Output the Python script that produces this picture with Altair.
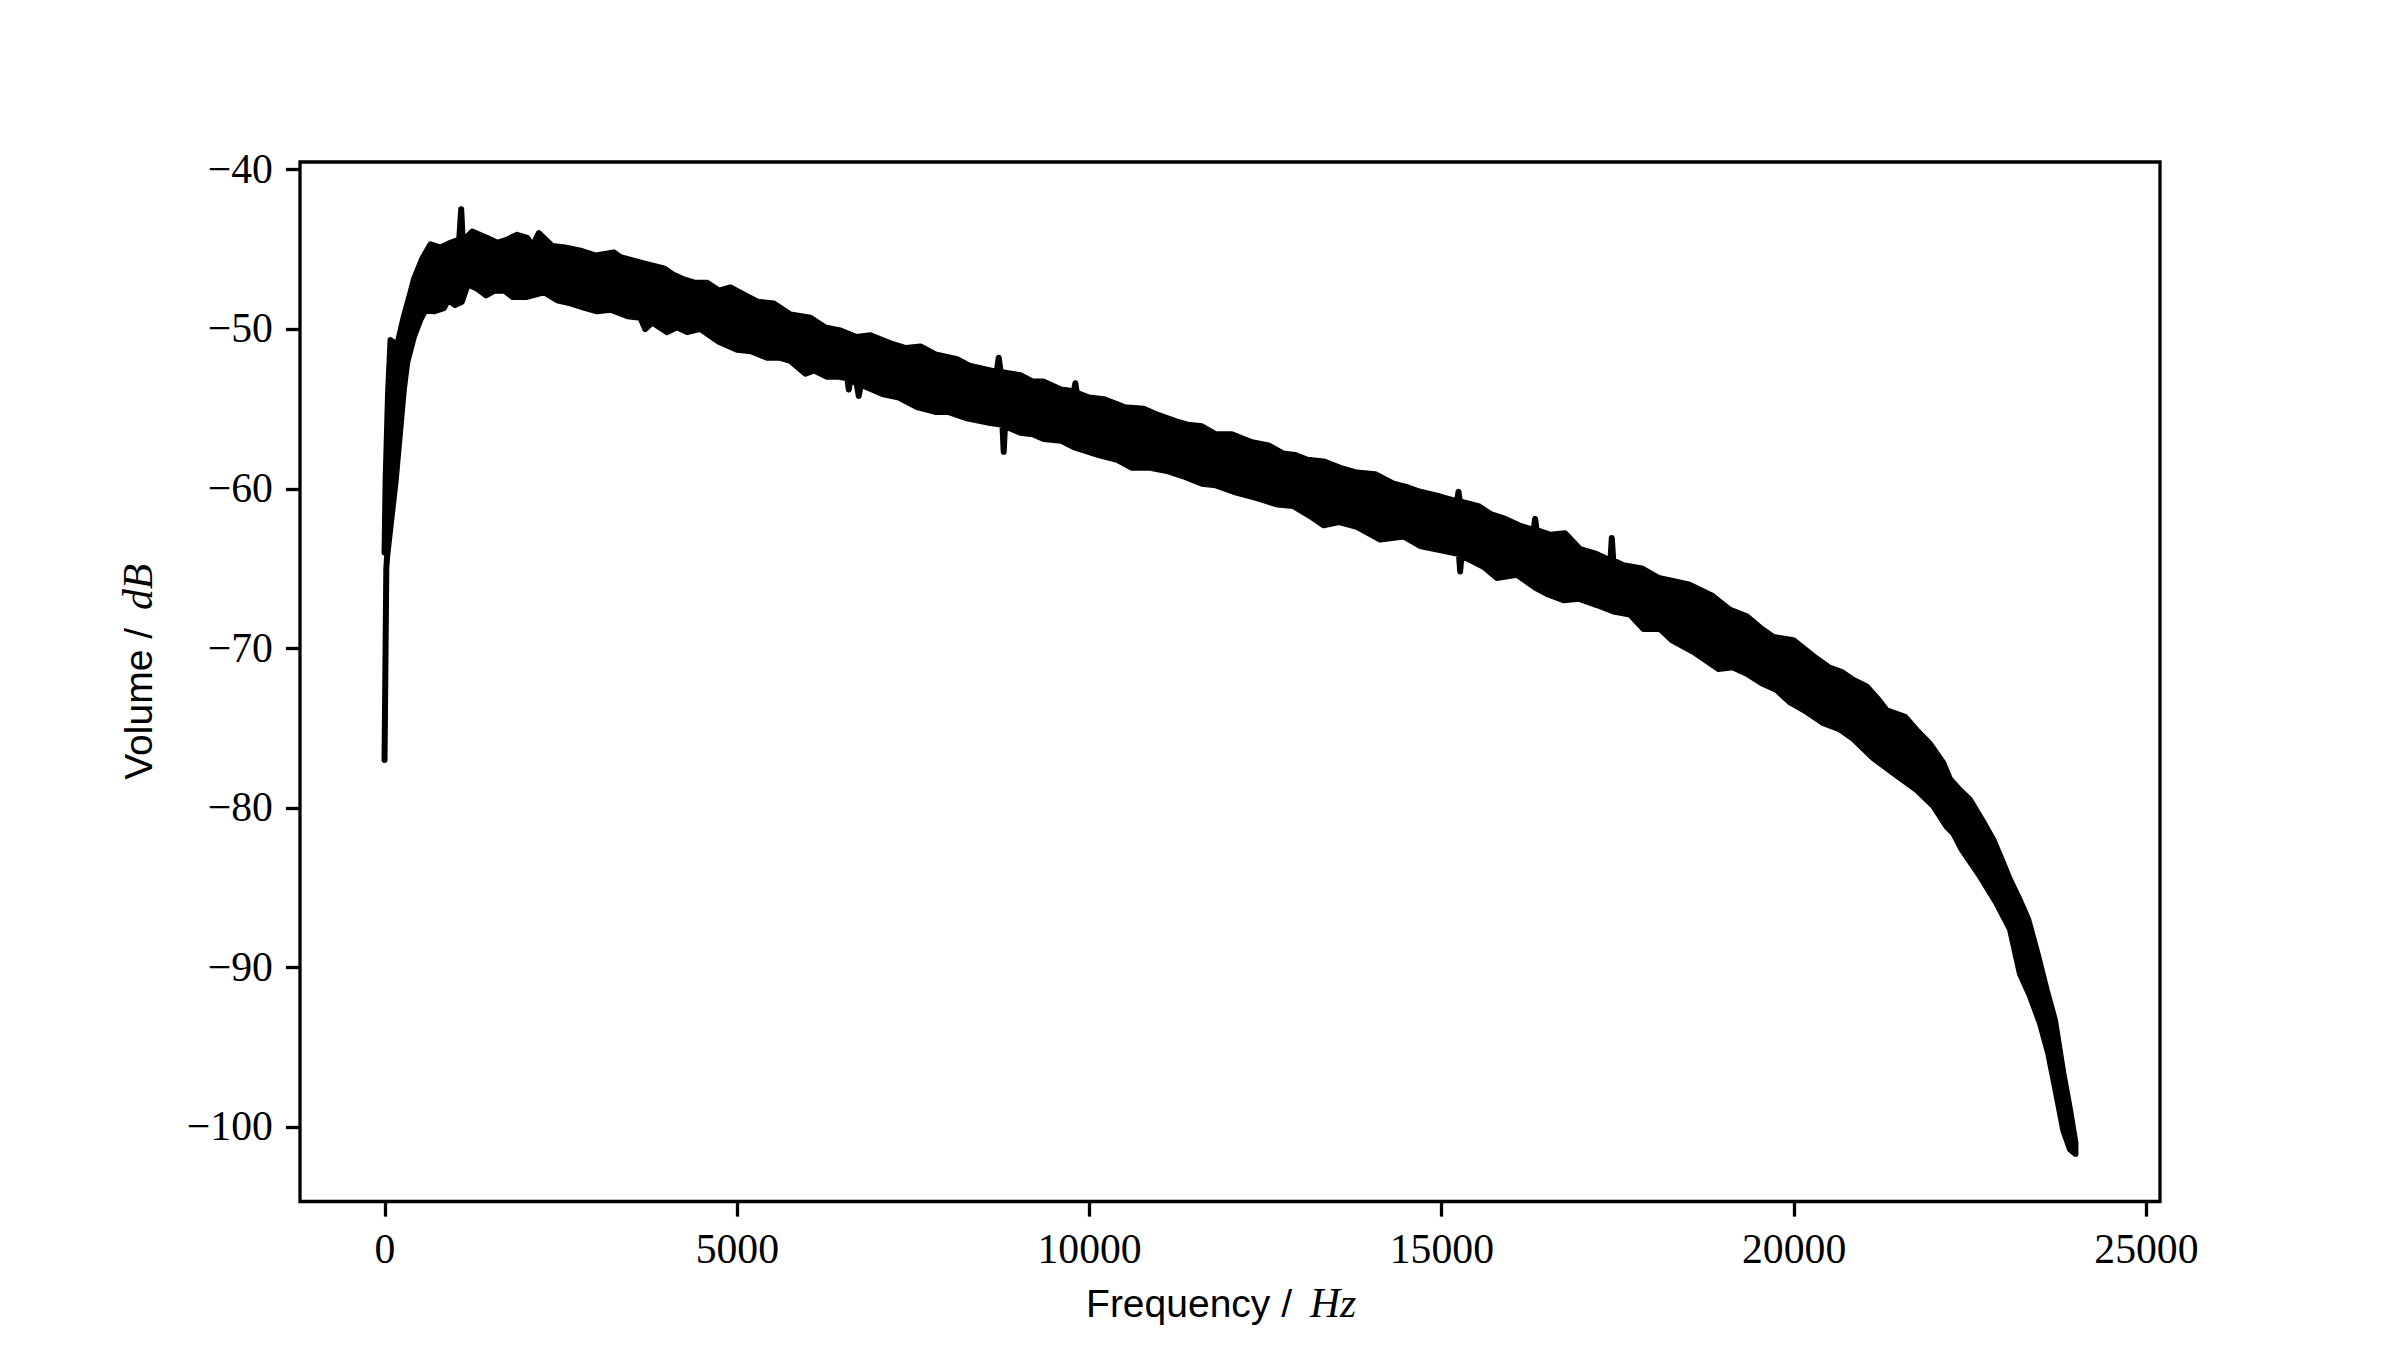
import altair as alt
import pandas as pd

# Upper edge of the noisy spectrum band (frequency in Hz, volume in dB)
UPPER_FREQ = [0, 15, 50, 85, 180, 275, 369, 416, 535, 653, 795, 936, 1060, 1088, 1110, 1244, 1457, 1600,
              1741, 1883, 2025, 2100, 2190, 2379, 2560, 2781, 3000, 3254, 3349, 3680, 3964, 4100, 4247,
              4400, 4579, 4750, 4910, 5122, 5300, 5525, 5761, 6045, 6250, 6470, 6700, 6896, 7180, 7400,
              7606, 7819, 8126, 8300, 8504, 8690, 8717, 8745, 9025, 9200, 9356, 9600, 9785, 9805, 9825,
              10000, 10207, 10500, 10775, 10986, 11246, 11400, 11601, 11800, 12027, 12311, 12547, 12750,
              12926, 13100, 13328, 13564, 13800, 14061, 14321, 14500, 14699, 14983, 15225, 15243, 15262,
              15527, 15700, 15906, 16100, 16310, 16331, 16352, 16550, 16757, 16970, 17200, 17400, 17419,
              17440, 17585, 17845, 18081, 18300, 18507, 18838, 19098, 19335, 19550, 19713, 19997, 20280,
              20500, 20683, 20850, 21037, 21200, 21321, 21581, 21760, 21936, 22125, 22219, 22362, 22503,
              22680, 22834, 22950, 23070, 23212, 23330, 23472, 23591, 23709, 23827, 23922, 24000]
UPPER_DB = [-64.0, -59.5, -54.0, -50.7, -51.0, -49.2, -47.7, -46.9, -45.6, -44.7, -44.9, -44.6, -44.4, -42.5,
            -44.5, -43.9, -44.3, -44.6, -44.4, -44.1, -44.3, -44.8, -44.0, -44.8, -44.9, -45.1, -45.4, -45.2,
            -45.5, -45.9, -46.2, -46.6, -46.9, -47.1, -47.1, -47.6, -47.4, -47.9, -48.3, -48.4, -49.1, -49.3,
            -49.9, -50.1, -50.5, -50.4, -50.9, -51.2, -51.1, -51.6, -51.9, -52.3, -52.5, -52.7, -51.8, -52.7,
            -52.9, -53.3, -53.3, -53.8, -53.9, -53.4, -54.0, -54.3, -54.4, -54.9, -55.0, -55.4, -55.8, -56.0,
            -56.1, -56.6, -56.6, -57.1, -57.3, -57.8, -57.9, -58.2, -58.3, -58.7, -59.0, -59.1, -59.7, -59.9,
            -60.2, -60.5, -60.8, -60.2, -60.8, -61.1, -61.6, -61.9, -62.3, -62.6, -61.9, -62.6, -62.9, -62.8,
            -63.8, -64.1, -64.5, -63.1, -64.5, -64.8, -65.0, -65.6, -65.8, -66.0, -66.7, -67.6, -68.0, -68.8,
            -69.3, -69.5, -70.5, -71.2, -71.5, -72.0, -72.4, -73.2, -73.9, -74.3, -75.2, -76.0, -77.2, -78.2,
            -78.9, -79.5, -80.8, -82.0, -83.2, -84.5, -85.8, -87.0, -89.3, -91.4, -93.3, -96.6, -98.9, -101.0]

# Lower edge of the noisy spectrum band
LOWER_FREQ = [0, 25, 38, 156, 274, 322, 416, 511, 582, 700, 842, 900, 1000, 1097, 1182, 1324, 1440, 1560,
              1702, 1820, 2009, 2261, 2450, 2639, 2850, 3017, 3207, 3450, 3632, 3700, 3800, 4011, 4150, 4295,
              4484, 4744, 5004, 5200, 5430, 5600, 5761, 5974, 6100, 6281, 6450, 6570, 6589, 6610, 6700, 6731,
              6760, 7085, 7300, 7558, 7819, 8000, 8268, 8599, 8770, 8788, 8806, 9025, 9200, 9356, 9600, 9782,
              10136, 10400, 10609, 10868, 11105, 11317, 11601, 11800, 12050, 12382, 12666, 12900, 13162, 13328,
              13550, 13801, 14132, 14463, 14699, 15030, 15250, 15267, 15285, 15598, 15787, 16071, 16331, 16497,
              16733, 16950, 17206, 17443, 17679, 17868, 18105, 18270, 18601, 18933, 19135, 19335, 19547, 19750,
              19950, 20186, 20422, 20659, 20848, 21132, 21439, 21747, 21983, 22173, 22266, 22384, 22645, 22881,
              23070, 23212, 23354, 23496, 23614, 23709, 23827, 23922, 24000]
LOWER_DB = [-77.0, -65.0, -64.2, -59.6, -53.8, -52.1, -50.5, -49.4, -48.8, -48.9, -48.7, -48.2, -48.5, -48.3,
            -47.2, -47.5, -47.9, -47.6, -47.6, -48.0, -48.0, -47.7, -48.2, -48.4, -48.7, -48.9, -48.8, -49.2,
            -49.3, -50.0, -49.6, -50.2, -49.9, -50.2, -50.0, -50.8, -51.3, -51.4, -51.8, -51.8, -52.0, -52.8,
            -52.6, -53.0, -53.0, -53.1, -53.8, -53.2, -53.4, -54.2, -53.5, -54.1, -54.3, -54.9, -55.2, -55.2,
            -55.6, -55.9, -56.0, -57.7, -56.1, -56.5, -56.6, -56.9, -57.0, -57.4, -57.9, -58.2, -58.7, -58.7,
            -58.9, -59.2, -59.7, -59.8, -60.2, -60.6, -61.0, -61.1, -61.8, -62.3, -62.1, -62.4, -63.2, -63.0,
            -63.6, -63.9, -64.1, -65.2, -64.2, -64.9, -65.6, -65.4, -66.2, -66.6, -67.0, -66.9, -67.3, -67.7,
            -67.9, -68.8, -68.8, -69.5, -70.3, -71.3, -71.2, -71.6, -72.2, -72.6, -73.4, -74.0, -74.7, -75.1,
            -75.7, -76.9, -77.9, -78.9, -79.9, -81.2, -81.6, -82.6, -84.3, -86.0, -87.6, -90.4, -91.8, -93.5,
            -95.4, -97.5, -100.2, -101.4, -101.7]

X_TICKS = [0, 5000, 10000, 15000, 20000, 25000]
Y_TICKS = [-40, -50, -60, -70, -80, -90, -100]
X_DOMAIN = [-1200, 25200]
Y_DOMAIN = [-104.67, -39.54]

# Closed outline: upper edge left->right, then lower edge right->left
freqs = UPPER_FREQ + LOWER_FREQ[::-1]
vols = UPPER_DB + LOWER_DB[::-1]
band = pd.DataFrame({"freq": freqs, "vol": vols, "idx": list(range(len(freqs)))})

FS = 41.7
SERIF = "Liberation Serif"
SANS = "Liberation Sans"

spectrum = alt.Chart(band).mark_line(
    fill="black", stroke="black", strokeWidth=6, strokeJoin="round", strokeCap="round"
).encode(
    x=alt.X("freq:Q", scale=alt.Scale(domain=X_DOMAIN, nice=False, zero=False),
            axis=alt.Axis(values=X_TICKS, title=None, format="d")),
    y=alt.Y("vol:Q", scale=alt.Scale(domain=Y_DOMAIN, nice=False, zero=False),
            axis=alt.Axis(values=Y_TICKS, title=None, format="d")),
    order="idx:Q",
)

def txt(s, **kw):
    return alt.Chart(pd.DataFrame({"t": [s]})).mark_text(**kw).encode(text="t:N")

xt1 = txt("Frequency /", font=SANS, fontSize=39, align="right", baseline="alphabetic", color="black").encode(
    x=alt.value(992), y=alt.value(1155))
xt2 = txt("Hz", font=SERIF, fontStyle="italic", fontSize=FS, align="left", baseline="alphabetic", color="black").encode(
    x=alt.value(1010), y=alt.value(1155))
yt1 = txt("Volume /", font=SANS, fontSize=39, align="right", baseline="alphabetic", angle=270, color="black").encode(
    x=alt.value(-148), y=alt.value(466))
yt2 = txt("dB", font=SERIF, fontStyle="italic", fontSize=FS, align="left", baseline="alphabetic", angle=270, color="black").encode(
    x=alt.value(-148), y=alt.value(448))

chart = alt.layer(spectrum, xt1, xt2, yt1, yt2).properties(
    width=1860, height=1039.5,
    autosize=alt.AutoSizeParams(type="none"),
    padding={"left": 292, "top": 154, "right": 232, "bottom": 140},
    background="white",
).configure_view(
    stroke="black", strokeWidth=3.3, fill="white"
).configure_axis(
    domain=False, grid=False,
    ticks=True, tickColor="black", tickWidth=3.3, tickSize=14.6,
    labelFont=SERIF, labelFontSize=FS, labelColor="black", labelPadding=13,
    labelFlush=False, labelOverlap=False,
)

chart.save("out.html", embed_options={"renderer": "svg", "actions": False})
